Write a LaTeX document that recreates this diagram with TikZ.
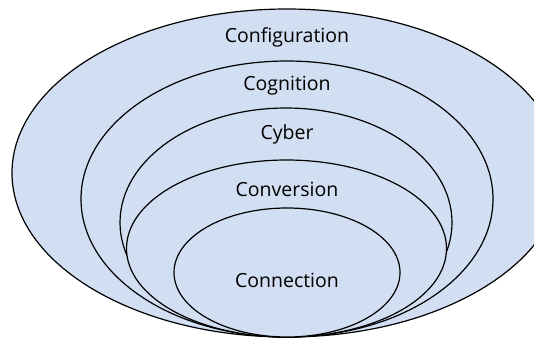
\documentclass[tikz,border=0pt]{standalone}
\usepackage{fontspec}
\setmainfont{Open Sans}
\definecolor{layerblue}{RGB}{210,222,241}
\tikzset{layer/.style={draw=black,fill=layerblue,line width=1.2pt}}
\begin{document}
\begin{tikzpicture}[x=1pt,y=1pt,font=\fontsize{19.5}{22}\selectfont]
    \useasboundingbox (0,0) rectangle (534,-338);
    \clip (0,0) rectangle (534,-338);
    \draw[layer] (287,-173) ellipse (275 and 164);
    \draw[layer] (287,-199) ellipse (206 and 138);
    \draw[layer] (286,-222.5) ellipse (166 and 114.5);
    \draw[layer] (286.5,-248.5) ellipse (160 and 88.5);
    \draw[layer] (287,-272.5) ellipse (113 and 64.5);
    \node (config) at (287,-37.5) {Configuration};
    \node (cogn) at (287,-86) {Cognition};
    \node (cyber) at (287,-134.5) {Cyber};
    \node (conv) at (287,-189) {Conversion};
    \node (conn) at (287,-280) {Connection};
\end{tikzpicture}
\end{document}
